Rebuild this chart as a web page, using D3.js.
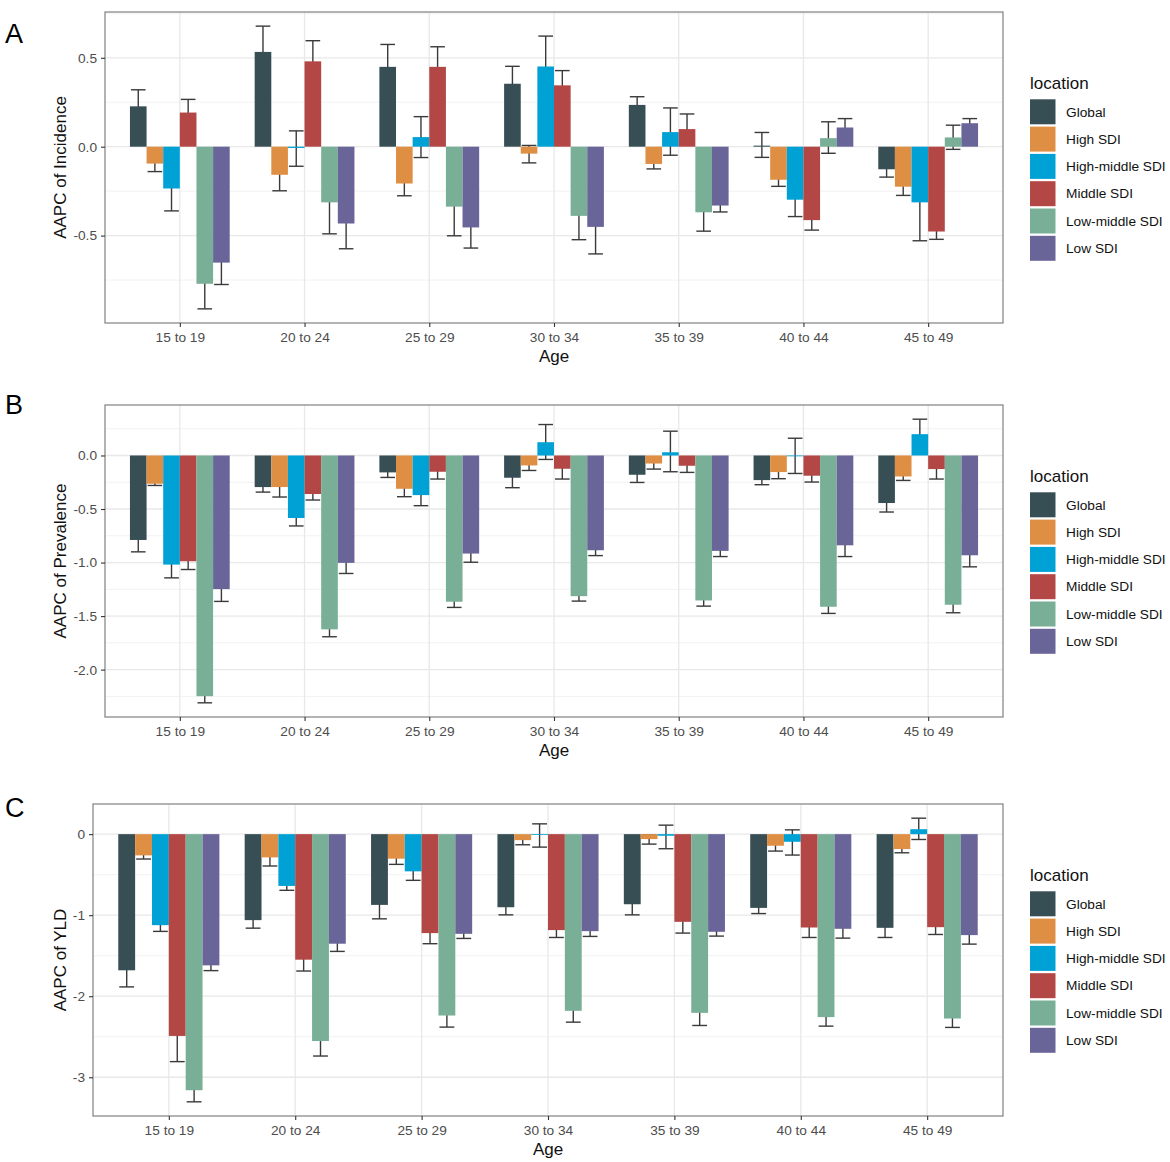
<!DOCTYPE html>
<html><head><meta charset="utf-8">
<script src="https://cdn.jsdelivr.net/npm/d3@7"></script>
<style>
body{margin:0;background:#fff;}
svg{display:block;font-family:"Liberation Sans",Arial,Helvetica,sans-serif;}
</style></head>
<body>
<svg id="chart" width="1170" height="1162"></svg>
<script>
// ---------- data ----------
const ages = ["15 to 19","20 to 24","25 to 29","30 to 34","35 to 39","40 to 44","45 to 49"];
const locations = ["Global","High SDI","High-middle SDI","Middle SDI","Low-middle SDI","Low SDI"];
const locationColors = ["#374E55","#DF8F44","#00A1D5","#B24745","#79AF97","#6A6599"];

// Panel A: AAPC of Incidence (rows follow `locations`, columns follow `ages`)
const incidenceVal = [
  [0.227, 0.533, 0.449, 0.354, 0.235, 0.006, -0.127],
  [-0.095, -0.158, -0.207, -0.039, -0.097, -0.186, -0.225],
  [-0.235, -0.007, 0.054, 0.451, 0.082, -0.298, -0.313],
  [0.192, 0.480, 0.449, 0.345, 0.099, -0.413, -0.477],
  [-0.771, -0.313, -0.337, -0.389, -0.369, 0.048, 0.052],
  [-0.652, -0.432, -0.454, -0.451, -0.331, 0.108, 0.132]
];
const incidenceLo = [
  [0.134, 0.388, 0.323, 0.256, 0.189, -0.06, -0.171],
  [-0.14, -0.248, -0.276, -0.091, -0.125, -0.223, -0.274],
  [-0.361, -0.11, -0.061, 0.28, -0.048, -0.393, -0.529],
  [0.118, 0.364, 0.336, 0.262, 0.014, -0.469, -0.521],
  [-0.912, -0.49, -0.501, -0.523, -0.475, -0.037, -0.015],
  [-0.775, -0.574, -0.57, -0.603, -0.367, 0.058, 0.106]
];
const incidenceHi = [
  [0.32, 0.678, 0.575, 0.452, 0.281, 0.08, -0.083],
  [-0.05, -0.068, -0.138, 0.007, -0.069, -0.149, -0.176],
  [-0.109, 0.089, 0.169, 0.622, 0.218, -0.203, -0.097],
  [0.266, 0.596, 0.562, 0.428, 0.184, -0.357, -0.433],
  [-0.63, -0.136, -0.173, -0.255, -0.263, 0.14, 0.121],
  [-0.529, -0.29, -0.338, -0.299, -0.295, 0.158, 0.158]
];

// Panel B: AAPC of Prevalence
const prevalenceVal = [
  [-0.789, -0.295, -0.158, -0.208, -0.18, -0.23, -0.444],
  [-0.264, -0.295, -0.311, -0.093, -0.075, -0.155, -0.196],
  [-1.019, -0.584, -0.370, 0.124, 0.03, -0.005, 0.199],
  [-0.988, -0.36, -0.152, -0.124, -0.096, -0.189, -0.127],
  [-2.248, -1.624, -1.366, -1.314, -1.354, -1.413, -1.394],
  [-1.248, -1.003, -0.916, -0.885, -0.891, -0.839, -0.932]
];
const prevalenceLo = [
  [-0.90, -0.342, -0.205, -0.301, -0.252, -0.273, -0.528],
  [-0.28, -0.388, -0.385, -0.14, -0.127, -0.217, -0.233],
  [-1.143, -0.658, -0.469, -0.037, -0.152, -0.168, 0.059],
  [-1.065, -0.416, -0.22, -0.22, -0.158, -0.248, -0.22],
  [-2.31, -1.693, -1.419, -1.36, -1.407, -1.475, -1.469],
  [-1.363, -1.102, -0.997, -0.935, -0.944, -0.944, -1.04]
];
const prevalenceHi = [
  [-0.678, -0.248, -0.111, -0.115, -0.108, -0.187, -0.36],
  [-0.248, -0.202, -0.237, -0.046, -0.023, -0.093, -0.159],
  [-0.895, -0.51, -0.271, 0.289, 0.227, 0.161, 0.339],
  [-0.911, -0.304, -0.084, -0.028, -0.034, -0.13, -0.034],
  [-2.186, -1.555, -1.313, -1.268, -1.301, -1.351, -1.319],
  [-1.133, -0.904, -0.835, -0.835, -0.838, -0.734, -0.824]
];

// Panel C: AAPC of YLD
const yldVal = [
  [-1.68, -1.061, -0.873, -0.902, -0.865, -0.91, -1.156],
  [-0.262, -0.287, -0.303, -0.074, -0.061, -0.143, -0.184],
  [-1.123, -0.639, -0.459, -0.01, -0.02, -0.094, 0.061],
  [-2.49, -1.549, -1.221, -1.184, -1.082, -1.152, -1.148],
  [-3.16, -2.553, -2.238, -2.18, -2.205, -2.258, -2.275],
  [-1.619, -1.352, -1.23, -1.197, -1.205, -1.168, -1.246]
];
const yldLo = [
  [-1.885, -1.16, -1.045, -0.996, -0.996, -0.98, -1.275],
  [-0.307, -0.393, -0.373, -0.131, -0.123, -0.209, -0.23],
  [-1.20, -0.693, -0.57, -0.16, -0.18, -0.258, -0.066],
  [-2.807, -1.689, -1.352, -1.275, -1.221, -1.275, -1.238],
  [-3.303, -2.738, -2.381, -2.32, -2.361, -2.369, -2.385],
  [-1.684, -1.447, -1.287, -1.262, -1.258, -1.283, -1.357]
];
const yldHi = [
  [-1.475, -0.962, -0.701, -0.808, -0.734, -0.84, -1.037],
  [-0.217, -0.181, -0.233, -0.02, -0.01, -0.077, -0.138],
  [-1.046, -0.585, -0.348, 0.127, 0.111, 0.053, 0.197],
  [-2.173, -1.409, -1.09, -1.093, -0.943, -1.029, -1.058],
  [-3.017, -2.368, -2.095, -2.04, -2.049, -2.147, -2.165],
  [-1.554, -1.257, -1.173, -1.132, -1.152, -1.053, -1.135]
];

const incidenceTicks = [-0.5, 0, 0.5];
const prevalenceTicks = [-2.0, -1.5, -1.0, -0.5, 0];
const yldTicks = [-3, -2, -1, 0];

// ---------- drawing ----------
const svg = d3.select("#chart");
const hyphen = f => v => f(v).replace("\u2212", "-");

const panels = [
  {letter:"A", title:"AAPC of Incidence", val:incidenceVal, lo:incidenceLo, hi:incidenceHi,
   ticks:incidenceTicks, fmt:hyphen(d3.format(".1f")), left:105, right:1003, top:12, bottom:323, letterY:42.5},
  {letter:"B", title:"AAPC of Prevalence", val:prevalenceVal, lo:prevalenceLo, hi:prevalenceHi,
   ticks:prevalenceTicks, fmt:hyphen(d3.format(".1f")), left:105, right:1003, top:405, bottom:717, letterY:413.5},
  {letter:"C", title:"AAPC of YLD", val:yldVal, lo:yldLo, hi:yldHi,
   ticks:yldTicks, fmt:hyphen(d3.format("d")), left:93, right:1003, top:804, bottom:1116, letterY:817}
];

panels.forEach(p => {
  const g = svg.append("g");
  // y domain like ggplot: data range incl. 0 expanded by 5%
  const all = [0].concat(p.val.flat(), p.lo.flat(), p.hi.flat());
  const mn = d3.min(all), mx = d3.max(all), ex = (mx - mn) * 0.05;
  const y = d3.scaleLinear().domain([mn - ex, mx + ex]).range([p.bottom, p.top]);
  const x = d3.scalePoint().domain(ages).range([p.left, p.right]).padding(0.6);
  const step = x.step();
  const groupW = step * 0.8;
  const bw = groupW / locations.length;

  // panel background & grid
  g.append("rect").attr("x", p.left).attr("y", p.top)
    .attr("width", p.right - p.left).attr("height", p.bottom - p.top).attr("fill", "#fff");
  const minor = [];
  for (let i = 0; i < p.ticks.length - 1; i++) minor.push((p.ticks[i] + p.ticks[i+1]) / 2);
  const d = p.ticks[1] - p.ticks[0];
  minor.unshift(p.ticks[0] - d/2); minor.push(p.ticks[p.ticks.length-1] + d/2);
  const dom = y.domain();
  g.selectAll(".minor").data(minor.filter(v => v > dom[0] && v < dom[1])).enter().append("line")
    .attr("x1", p.left).attr("x2", p.right).attr("y1", v => y(v)).attr("y2", v => y(v))
    .attr("stroke", "#f2f2f2").attr("stroke-width", 1);
  g.selectAll(".major").data(p.ticks).enter().append("line")
    .attr("x1", p.left).attr("x2", p.right).attr("y1", v => y(v)).attr("y2", v => y(v))
    .attr("stroke", "#e8e8e8").attr("stroke-width", 1.3);
  g.selectAll(".vmajor").data(ages).enter().append("line")
    .attr("x1", a => x(a)).attr("x2", a => x(a)).attr("y1", p.top).attr("y2", p.bottom)
    .attr("stroke", "#e8e8e8").attr("stroke-width", 1.3);

  // flatten records
  const recs = [];
  locations.forEach((loc, li) => ages.forEach((age, ai) => {
    recs.push({loc, li, age, v: p.val[li][ai], lo: p.lo[li][ai], hi: p.hi[li][ai]});
  }));
  const cx = r => x(r.age) - groupW / 2 + (r.li + 0.5) * bw;
  const capW = bw * 0.44;

  // error bars (drawn first, bars cover them)
  const eb = g.append("g").attr("stroke", "#3a3a3a").attr("stroke-width", 1.4).attr("fill", "none");
  recs.forEach(r => {
    const xc = cx(r);
    eb.append("line").attr("x1", xc).attr("x2", xc).attr("y1", y(r.lo)).attr("y2", y(r.hi));
    eb.append("line").attr("x1", xc - capW).attr("x2", xc + capW).attr("y1", y(r.lo)).attr("y2", y(r.lo));
    eb.append("line").attr("x1", xc - capW).attr("x2", xc + capW).attr("y1", y(r.hi)).attr("y2", y(r.hi));
  });

  // bars
  g.selectAll(".bar").data(recs).enter().append("rect")
    .attr("x", r => cx(r) - bw / 2)
    .attr("width", bw)
    .attr("y", r => y(Math.max(0, r.v)))
    .attr("height", r => Math.max(0.8, Math.abs(y(r.v) - y(0))))
    .attr("fill", r => locationColors[r.li]);

  // border
  g.append("rect").attr("x", p.left).attr("y", p.top)
    .attr("width", p.right - p.left).attr("height", p.bottom - p.top)
    .attr("fill", "none").attr("stroke", "#808080").attr("stroke-width", 1.2);

  // axes
  const xa = g.append("g").attr("transform", `translate(0,${p.bottom})`)
    .call(d3.axisBottom(x).tickSize(4).tickPadding(5));
  const ya = g.append("g").attr("transform", `translate(${p.left},0)`)
    .call(d3.axisLeft(y).tickValues(p.ticks).tickFormat(p.fmt).tickSize(4).tickPadding(4));
  [xa, ya].forEach(a => {
    a.select(".domain").remove();
    a.selectAll(".tick line").attr("stroke", "#333").attr("stroke-width", 1.1);
    a.selectAll(".tick text").attr("fill", "#4d4d4d")
      .style("font-size", "13.7px").style("font-family", "'Liberation Sans', Arial, sans-serif");
  });

  // titles
  g.append("text").attr("x", (p.left + p.right) / 2).attr("y", p.bottom + 39)
    .attr("text-anchor", "middle").style("font-size", "17px").attr("fill", "#111").text("Age");
  g.append("text").attr("transform", `translate(66,${(p.top + p.bottom) / 2}) rotate(-90)`)
    .attr("text-anchor", "middle").style("font-size", "17px").attr("fill", "#111").text(p.title);
  g.append("text").attr("x", 5).attr("y", p.letterY)
    .style("font-size", "27px").attr("fill", "#000").text(p.letter);

  // legend
  const lg = g.append("g").attr("transform", `translate(1030,${p.top})`);
  lg.append("text").attr("x", 0).attr("y", 77).style("font-size", "17px").attr("fill", "#111").text("location");
  locations.forEach((loc, i) => {
    const yy = 87.3 + i * 27.3;
    lg.append("rect").attr("x", 0).attr("y", yy).attr("width", 25.5).attr("height", 25)
      .attr("fill", locationColors[i]);
    lg.append("text").attr("x", 36).attr("y", yy + 12.5).attr("dy", "0.35em")
      .style("font-size", "13.7px").attr("fill", "#111").text(loc);
  });
});
</script>
</body></html>
